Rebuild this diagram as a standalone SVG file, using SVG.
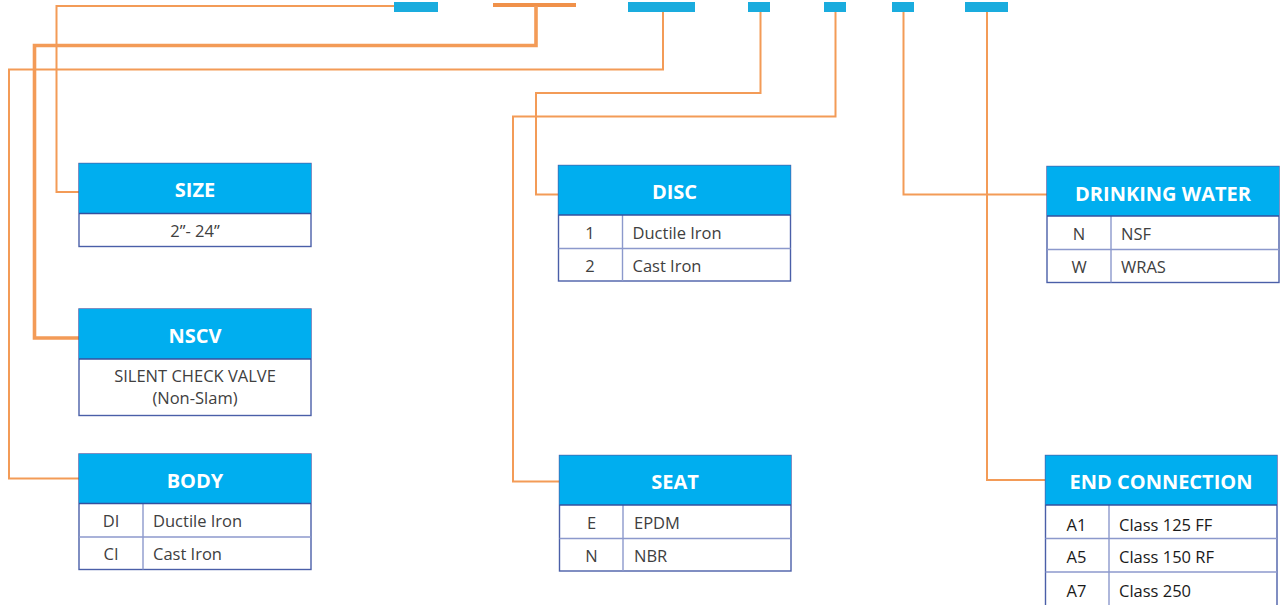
<svg xmlns="http://www.w3.org/2000/svg" width="1281" height="605" viewBox="0 0 1281 605">
<style>
.bar{fill:#1AACDE}
.con{fill:none;stroke:#F39B57;stroke-width:2}
.thick{stroke-width:3.6}
.hdr{fill:#00AEEF}
.box{fill:#fff;stroke:#4A5FA8;stroke-width:1.4}
.ln{stroke:#8C99CC;stroke-width:1.4}
.hl{stroke:#34509E;stroke-width:1.6}
.ht{font-family:"Open Sans","Liberation Sans",sans-serif;font-weight:700;font-size:20px;fill:#fff;text-anchor:middle}
.t{font-family:"Open Sans","Liberation Sans",sans-serif;font-size:16.5px;fill:#404040}
.c{text-anchor:middle}
.d{fill:#1a1a1a}
</style>
<g id="code-bar">
<rect class="bar" x="394" y="2" width="44" height="10"/>
<rect x="493" y="3" width="83" height="4" fill="#F0914A"/>
<rect class="bar" x="628" y="2" width="67" height="10"/>
<rect class="bar" x="748" y="2" width="22" height="10"/>
<rect class="bar" x="824" y="2" width="22" height="10"/>
<rect class="bar" x="892" y="2" width="22" height="10"/>
<rect class="bar" x="965" y="2" width="43" height="10"/>
</g>
<g id="connectors">
<path class="con" d="M394,6 H56.5 V192 H79"/>
<path class="con thick" d="M536,6 V45.5 H34.5 V338 H79"/>
<path class="con" d="M663,12 V69.5 H9 V478.5 H79"/>
<path class="con" d="M760.5,12 V93 H536 V194.5 H558"/>
<path class="con" d="M835.5,12 V116.5 H513 V481.5 H559"/>
<path class="con" d="M903.5,12 V194.5 H1047"/>
<path class="con" d="M987,12 V480 H1045"/>
</g>
<g id="size">
<rect class="box" x="79" y="163.5" width="232" height="83"/>
<rect class="hdr" x="79" y="163.5" width="232" height="50"/>
<line class="hl" x1="79" y1="213.5" x2="311" y2="213.5"/>
<text class="ht" x="195" y="197">SIZE</text>
<text class="t c" x="195" y="237">2”- 24”</text>
</g>
<g id="nscv">
<rect class="box" x="79" y="309" width="232" height="106.5"/>
<rect class="hdr" x="79" y="309" width="232" height="50"/>
<line class="hl" x1="79" y1="359" x2="311" y2="359"/>
<text class="ht" x="195" y="343">NSCV</text>
<text class="t c" x="195" y="382">SILENT CHECK VALVE</text>
<text class="t c" x="195" y="404">(Non-Slam)</text>
</g>
<g id="body">
<rect class="box" x="79" y="454" width="232" height="115.5"/>
<rect class="hdr" x="79" y="454" width="232" height="49.5"/>
<line class="ln" x1="79" y1="537" x2="311" y2="537"/>
<line class="ln" x1="143" y1="503.5" x2="143" y2="569.5"/>
<line class="hl" x1="79" y1="503.5" x2="311" y2="503.5"/>
<text class="ht" x="195" y="487.5">BODY</text>
<text class="t c" x="111" y="526.5">DI</text>
<text class="t" x="153" y="526.5">Ductile Iron</text>
<text class="t c" x="111" y="560">CI</text>
<text class="t" x="153" y="560">Cast Iron</text>
</g>
<g id="disc">
<rect class="box" x="558.5" y="165.5" width="232" height="115.5"/>
<rect class="hdr" x="558.5" y="165.5" width="232" height="49.5"/>
<line class="ln" x1="558.5" y1="248.5" x2="790.5" y2="248.5"/>
<line class="ln" x1="622.5" y1="215" x2="622.5" y2="281"/>
<line class="hl" x1="558.5" y1="215" x2="790.5" y2="215"/>
<text class="ht" x="674.5" y="199">DISC</text>
<text class="t c" x="590" y="239">1</text>
<text class="t" x="632.5" y="239">Ductile Iron</text>
<text class="t c" x="590" y="272">2</text>
<text class="t" x="632.5" y="272">Cast Iron</text>
</g>
<g id="seat">
<rect class="box" x="559.5" y="455.5" width="231.5" height="115.5"/>
<rect class="hdr" x="559.5" y="455.5" width="231.5" height="49.5"/>
<line class="ln" x1="559.5" y1="538.5" x2="791" y2="538.5"/>
<line class="ln" x1="623" y1="505" x2="623" y2="571"/>
<line class="hl" x1="559.5" y1="505" x2="791" y2="505"/>
<text class="ht" x="675" y="488.5">SEAT</text>
<text class="t c" x="591.5" y="529">E</text>
<text class="t" x="634" y="529">EPDM</text>
<text class="t c" x="591.5" y="561.5">N</text>
<text class="t" x="634" y="561.5">NBR</text>
</g>
<g id="drinking-water">
<rect class="box" x="1047" y="166.5" width="232" height="116"/>
<rect class="hdr" x="1047" y="166.5" width="232" height="49.5"/>
<line class="ln" x1="1047" y1="249.5" x2="1279" y2="249.5"/>
<line class="ln" x1="1111" y1="216" x2="1111" y2="282.5"/>
<line class="hl" x1="1047" y1="216" x2="1279" y2="216"/>
<text class="ht" x="1163" y="201">DRINKING WATER</text>
<text class="t c" x="1079" y="240">N</text>
<text class="t" x="1121" y="240">NSF</text>
<text class="t c" x="1079" y="273">W</text>
<text class="t" x="1121" y="273">WRAS</text>
</g>
<g id="end-connection">
<rect class="box" x="1045.5" y="455.5" width="231.5" height="152"/>
<rect class="hdr" x="1045.5" y="455.5" width="231.5" height="49.5"/>
<line class="ln" x1="1045.5" y1="538.5" x2="1277" y2="538.5"/>
<line class="ln" x1="1045.5" y1="572" x2="1277" y2="572"/>
<line class="ln" x1="1109" y1="505" x2="1109" y2="605"/>
<line class="hl" x1="1045.5" y1="505" x2="1277" y2="505"/>
<text class="ht" x="1161" y="488.5">END CONNECTION</text>
<text class="t d" x="1066.5" y="530.5">A1</text>
<text class="t d" x="1119" y="530.5">Class 125 FF</text>
<text class="t d" x="1066.5" y="562.5">A5</text>
<text class="t d" x="1119" y="562.5">Class 150 RF</text>
<text class="t d" x="1066.5" y="596.5">A7</text>
<text class="t d" x="1119" y="596.5">Class 250</text>
</g>
</svg>
